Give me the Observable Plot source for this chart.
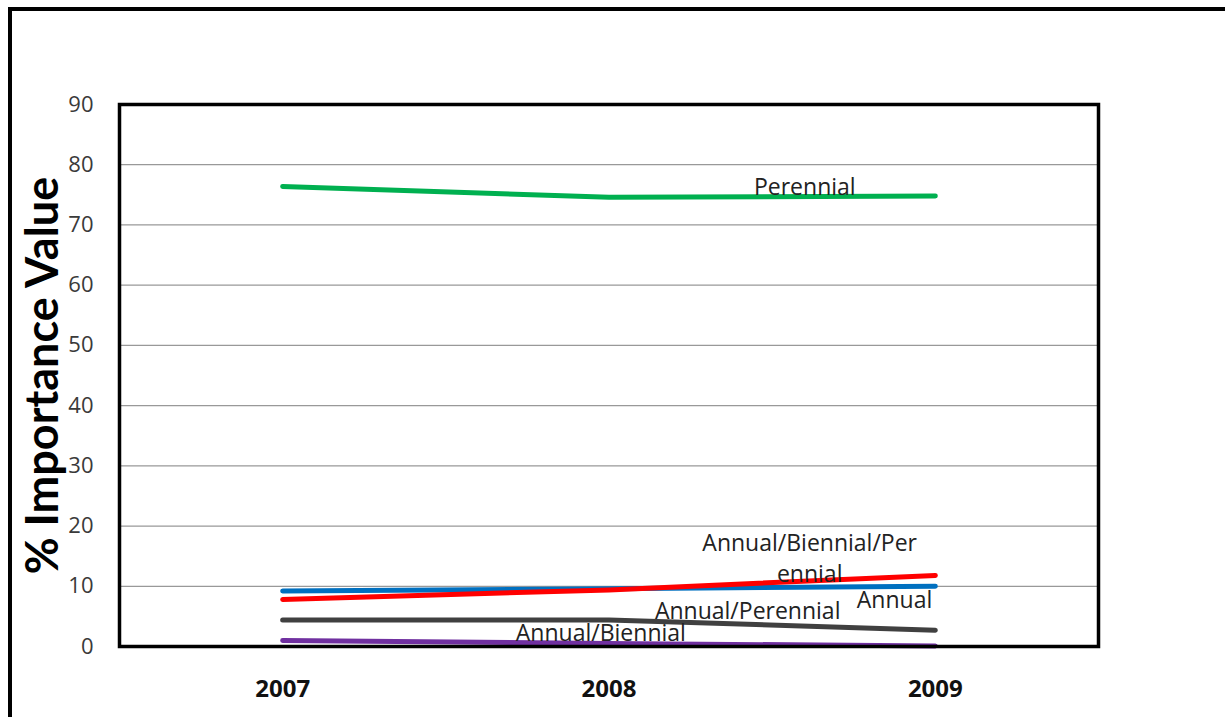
<!DOCTYPE html>
<html>
<head>
<meta charset="utf-8">
<script src="https://cdn.jsdelivr.net/npm/d3@7"></script>
<script src="https://cdn.jsdelivr.net/npm/@observablehq/plot@0.6"></script>
<style>
  html, body { margin: 0; padding: 0; background: #fff; }
  #wrap { position: relative; width: 1225px; height: 717px; overflow: hidden; }
  #border {
    position: absolute; left: 8px; top: 7px; width: 1230px; height: 760px;
    border-left: 4px solid #000; border-top: 4px solid #000; box-sizing: border-box;
  }
  #chart { position: absolute; left: 0; top: 0; }
</style>
</head>
<body>
<div id="wrap">
  <div id="border"></div>
  <div id="chart"></div>
</div>
<script>
// Survey years
const years = [2007, 2008, 2009];

// % importance value by life-history group
const perennial = [76.4, 74.6, 74.8];
const annual = [9.2, 9.6, 10.0];
const annualBiennialPerennial = [7.8, 9.4, 11.8];
const annualPerennial = [4.4, 4.4, 2.7];
const annualBiennial = [1.0, 0.5, 0.1];

// Series names and colours, in drawing order
const seriesNames = ["Annual/Biennial", "Annual/Perennial", "Annual", "Annual/Biennial/Perennial", "Perennial"];
const seriesColors = ["#7030A0", "#404040", "#0070C0", "#FF0000", "#00B050"];
const seriesValues = [annualBiennial, annualPerennial, annual, annualBiennialPerennial, perennial];

// Y axis ticks
const yTicks = [0, 10, 20, 30, 40, 50, 60, 70, 80, 90];

// Series labels placed in data space (year, value)
const labelText = ["Perennial", "Annual/Biennial/Per\nennial", "Annual", "Annual/Perennial", "Annual/Biennial"];
const labelYear = [2008.6, 2008.615, 2008.875, 2008.425, 2007.975];
const labelValue = [76.6, 14.9, 8.1, 6.2, 2.6];

const rows = seriesNames.flatMap((name, i) =>
  years.map((year, j) => ({series: name, year, value: seriesValues[i][j]}))
);
const labels = labelText.map((text, i) => ({text, year: labelYear[i], value: labelValue[i]}));

const chart = Plot.plot({
  width: 1225,
  height: 717,
  marginLeft: 119,
  marginRight: 127,
  marginTop: 104,
  marginBottom: 71,
  style: {background: "transparent", overflow: "visible", fontFamily: "'Open Sans', Lato, sans-serif"},
  x: {domain: [2006.5, 2009.5]},
  y: {domain: [0, 90]},
  color: {domain: seriesNames, range: seriesColors},
  marks: [
    Plot.gridY(yTicks.slice(1, -1), {stroke: "#999", strokeOpacity: 1, strokeWidth: 1.3}),
    Plot.axisY(yTicks, {
      tickSize: 0, tickPadding: 26, fontSize: 22, fill: "#3a3a3a", label: null
    }),
    Plot.axisX(years, {
      tickSize: 0, tickPadding: 33, fontSize: 24, fontWeight: "bold", fill: "#111",
      tickFormat: d => String(d), label: null
    }),
    Plot.text(["% Importance Value"], {
      frameAnchor: "left", textAnchor: "middle", rotate: -90, dx: -76,
      fontSize: 45, fontWeight: "bold", fill: "#000", fontFamily: "Lato"
    }),
    Plot.line(rows, {
      x: "year", y: "value", z: "series", stroke: "series",
      strokeWidth: 5, strokeLinecap: "round", strokeLinejoin: "round"
    }),
    Plot.frame({stroke: "#000", strokeWidth: 3.5}),
    Plot.text(labels, {
      x: "year", y: "value", text: "text",
      fontSize: 23, fill: "#222", lineHeight: 1.35
    })
  ]
});

document.getElementById("chart").appendChild(chart);
</script>
</body>
</html>
